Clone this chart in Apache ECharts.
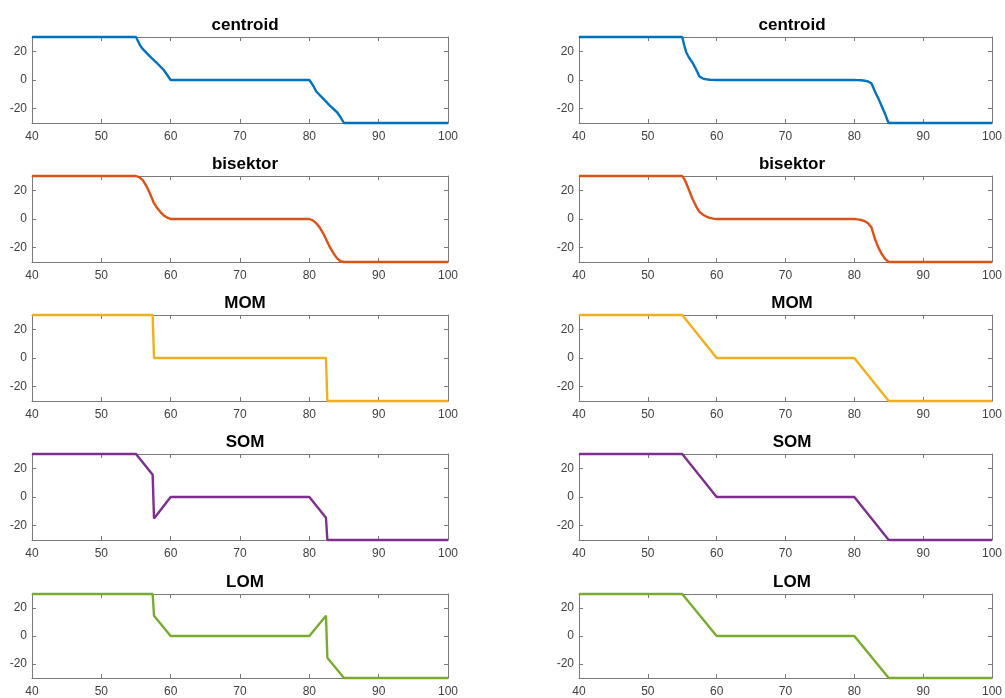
<!DOCTYPE html>
<html>
<head>
<meta charset="utf-8">
<script src="https://cdn.jsdelivr.net/npm/echarts@6/dist/echarts.min.js"></script>
<style>
html,body{margin:0;padding:0;background:#fff;}
#c{width:1005px;height:698px;}
</style>
</head>
<body>
<div id="c"></div>
<script>
// ---- data ----
const titles = ['centroid','centroid','bisektor','bisektor','MOM','MOM','SOM','SOM','LOM','LOM'];
const colors = ['#0072BD','#0072BD','#D95319','#D95319','#EDB120','#EDB120','#7E2F8E','#7E2F8E','#77AC30','#77AC30'];
const xTicks = [40,50,60,70,80,90,100];
const yTicks = [-20,0,20];

const centroidLX = [40,55,55.3,55.6,56,57,58,59,59.5,60,80,80.5,81,82,83,84,84.5,85,100];
const centroidLY = [30,30,27,24,21.5,16.5,12,7,3.5,0,0,-3.5,-8,-13,-18,-22.5,-26,-30,-30];
const centroidRX = [40,55,55.3,55.6,56,56.5,57,57.5,58,58.5,59,60,80,80.5,81,81.5,82,82.5,83,83.5,84,84.5,84.8,85,100];
const centroidRY = [30,30,24,19,15.5,12,7.5,2.5,1,0.5,0.2,0,0,-0.1,-0.2,-0.5,-1,-2.5,-8,-13,-18.5,-24,-28,-30,-30];
const bisektorLX = [40,55,55.5,56,56.5,57,57.5,58,58.5,59,59.5,60,80,80.5,81,81.5,82,82.5,83,83.5,84,84.5,85,100];
const bisektorLY = [30,30,29,27,23,18,12,8,5,2.5,1,0,0,-1,-3,-6,-10,-15,-20,-24,-27.5,-29.5,-30,-30];
const bisektorRX = [40,55,55.5,56,56.5,57,57.5,58,58.5,59,59.5,60,80,80.5,81,81.5,82,82.5,83,83.5,84,84.5,85,100];
const bisektorRY = [30,30,26,20,14,9,5,3,1.7,0.8,0.3,0,0,-0.3,-0.7,-1.5,-3,-6,-14,-20,-24.5,-28,-30,-30];
const momLX = [40,57.4,57.6,82.4,82.6,100];
const momLY = [30,30,0,0,-30,-30];
const linRX = [40,55,60,80,85,100];
const linRY = [30,30,0,0,-30,-30];
const somLX = [40,55,57.4,57.6,60,80,82.4,82.6,100];
const somLY = [30,30,15.5,-15,0,0,-14.5,-30,-30];
const lomLX = [40,57.4,57.6,60,80,82.4,82.6,85,100];
const lomLY = [30,30,14.5,0,0,14.5,-15.5,-30,-30];

const seriesX = [centroidLX,centroidRX,bisektorLX,bisektorRX,momLX,linRX,somLX,linRX,lomLX,linRX];
const seriesY = [centroidLY,centroidRY,bisektorLY,bisektorRY,momLY,linRY,somLY,linRY,lomLY,linRY];

// ---- layout ----
const tops = [37,176,315,454,594];
const lefts = [32,579];
const widths = [416,416];
const H = 86;
const axisColor = '#7a7a7a';
const labelColor = '#404040';
const font = '"Liberation Sans", Arial, Helvetica, sans-serif';

const grid=[], xAxis=[], yAxis=[], series=[], title=[];
for (let i=0;i<10;i++){
  const r = Math.floor(i/2), c = i%2;
  grid.push({left:lefts[c], top:tops[r], width:widths[c], height:H, show:false, containLabel:false});
  const common = {min:40,max:100,interval:10,gridIndex:i};
  xAxis.push(Object.assign({type:'value', position:'bottom',
    axisLine:{show:true,onZero:false,lineStyle:{color:axisColor,width:1}},
    axisTick:{show:true,inside:true,length:4,lineStyle:{color:axisColor}},
    axisLabel:{color:labelColor,fontSize:12,fontFamily:font,margin:8,
      customValues:xTicks, formatter:v=>String(v)},
    splitLine:{show:false}}, common));
  xAxis.push(Object.assign({type:'value', position:'top',
    axisLine:{show:true,onZero:false,lineStyle:{color:axisColor,width:1}},
    axisTick:{show:true,inside:true,length:4,lineStyle:{color:axisColor}},
    axisLabel:{show:false}, splitLine:{show:false}}, common));
  const ycommon = {min:-30,max:30,gridIndex:i};
  yAxis.push(Object.assign({type:'value', position:'left',
    axisLine:{show:true,onZero:false,lineStyle:{color:axisColor,width:1}},
    axisTick:{show:true,inside:true,length:4,customValues:yTicks,lineStyle:{color:axisColor}},
    axisLabel:{color:labelColor,fontSize:12,fontFamily:font,margin:5,customValues:yTicks},
    splitLine:{show:false}}, ycommon));
  yAxis.push(Object.assign({type:'value', position:'right',
    axisLine:{show:true,onZero:false,lineStyle:{color:axisColor,width:1}},
    axisTick:{show:true,inside:true,length:4,customValues:yTicks,lineStyle:{color:axisColor}},
    axisLabel:{show:false}, splitLine:{show:false}}, ycommon));
  const data = seriesX[i].map((x,k)=>[x, seriesY[i][k]]);
  series.push({type:'line', xAxisIndex:2*i, yAxisIndex:2*i, data:data,
    showSymbol:false, symbol:'none', lineStyle:{color:colors[i], width:2.4},
    clip:false, animation:false, z:3});
  title.push({text:titles[i], left: lefts[c]+widths[c]/2, top: tops[r]-25, textAlign:'center',
    textStyle:{fontSize:17,fontWeight:'bold',color:'#000',fontFamily:font}});
}

const chart = echarts.init(document.getElementById('c'), null, {renderer:'canvas'});
chart.setOption({animation:false, backgroundColor:'#fff', title, grid, xAxis, yAxis, series});
</script>
</body>
</html>
